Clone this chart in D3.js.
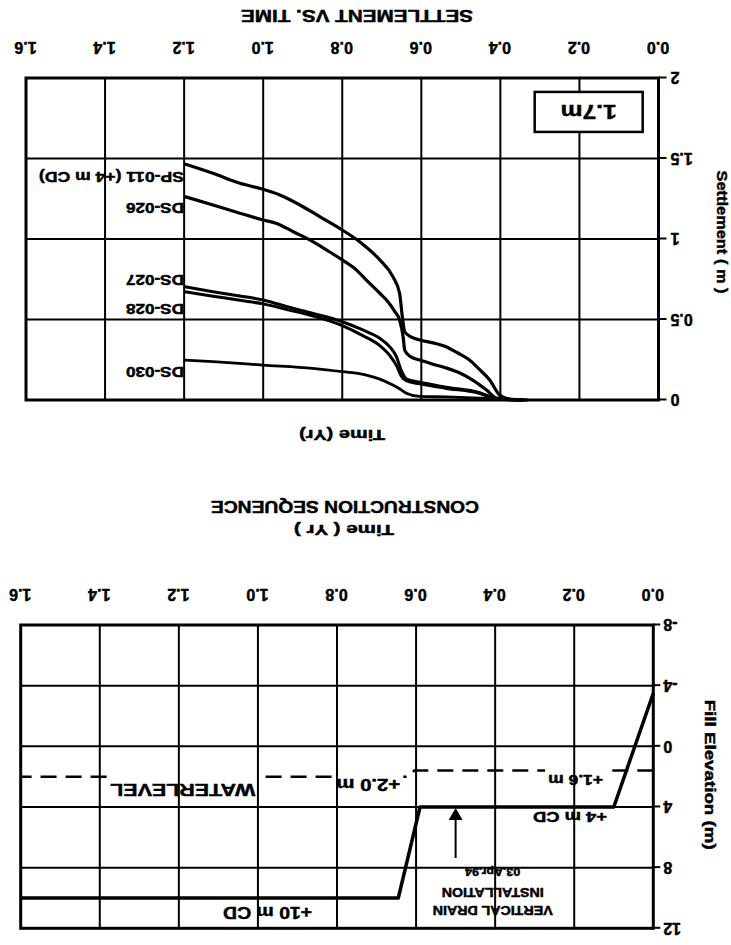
<!DOCTYPE html>
<html><head><meta charset="utf-8">
<script src="https://cdn.jsdelivr.net/npm/d3@7"></script>
<style>
body{margin:0;background:#fff;}
svg text{font-family:"Liberation Sans",Arial,sans-serif;font-weight:bold;fill:#000;stroke:#000;stroke-width:0.45px;}
</style></head><body>
<svg id="c" width="731" height="945"></svg>
<script>
// ---------- data ----------
const timeTicks = [0.0,0.2,0.4,0.6,0.8,1.0,1.2,1.4,1.6];
const settlementTicks = [0,0.5,1,1.5,2];
const elevationTicks = [-8,-4,0,4,8,12];

const seriesNames = ["SP-011 (+4 m CD)","DS-026","DS-027","DS-028","DS-030"];
// [time (yr), settlement (m)]
const sp011 = [[0.33,0],[0.37,0.004],[0.385,0.01],[0.402,0.031],[0.427,0.124],[0.455,0.195],[0.478,0.248],[0.51,0.295],[0.537,0.331],[0.57,0.355],[0.604,0.373],[0.625,0.39],[0.642,0.424],[0.648,0.517],[0.655,0.663],[0.672,0.766],[0.705,0.87],[0.756,0.983],[0.80,1.056],[0.857,1.139],[0.907,1.211],[0.958,1.273],[1.002,1.31],[1.059,1.346],[1.127,1.408],[1.198,1.466]];
const ds026 = [[0.34,0],[0.38,0.004],[0.41,0.012],[0.435,0.062],[0.47,0.124],[0.50,0.165],[0.537,0.199],[0.57,0.222],[0.604,0.248],[0.628,0.27],[0.642,0.31],[0.646,0.393],[0.655,0.497],[0.667,0.549],[0.688,0.621],[0.705,0.663],[0.739,0.745],[0.764,0.807],[0.80,0.87],[0.84,0.932],[0.882,0.994],[0.924,1.045],[0.966,1.097],[1.0,1.118],[1.059,1.16],[1.127,1.211],[1.198,1.263]];
const ds027 = [[0.34,0],[0.40,0.005],[0.42,0.015],[0.452,0.045],[0.537,0.08],[0.604,0.11],[0.637,0.13],[0.651,0.186],[0.663,0.269],[0.68,0.331],[0.705,0.383],[0.748,0.435],[0.80,0.486],[0.874,0.538],[0.94,0.58],[1.0,0.621],[1.059,0.646],[1.127,0.673],[1.198,0.704]];
const ds028 = [[0.34,0],[0.40,0.004],[0.42,0.012],[0.452,0.04],[0.537,0.072],[0.604,0.10],[0.637,0.118],[0.651,0.15],[0.663,0.215],[0.68,0.277],[0.705,0.338],[0.748,0.40],[0.80,0.462],[0.874,0.522],[0.94,0.562],[1.0,0.597],[1.059,0.619],[1.127,0.645],[1.198,0.672]];
const ds030 = [[0.34,0],[0.38,0.003],[0.452,0.012],[0.537,0.019],[0.604,0.022],[0.638,0.042],[0.655,0.07],[0.672,0.093],[0.705,0.13],[0.739,0.155],[0.80,0.176],[0.875,0.197],[1.0,0.217],[1.127,0.238],[1.198,0.248]];
const settlementSeries = [sp011, ds026, ds027, ds028, ds030];

// construction sequence
const fillTime = [0.0,0.10,0.59,0.645,1.6];
const fillElev = [-3.5,4,4,10,10];
const waterTime = [0.0,0.605,0.615,1.6];
const waterElev = [1.6,1.6,2.0,2.0];
const drainTime = 0.5;

// ---------- layout / style (not data) ----------
const W=731,H=945;
const S={left:72.5,right:705,top:545,bottom:867};
const C={left:77.7,right:710.3,top:16.7,bottom:320};
const labelDy=[-13,-11,7,-17,-12];
const seriesWidth=[3.2,3.2,3,3,2.8];
const FONT='"Liberation Sans",Arial,sans-serif';

const svg=d3.select("#c");
svg.append("rect").attr("width",W).attr("height",H).attr("fill","#fff");
const root=svg.append("g").attr("transform",`rotate(180,${W/2},${H/2})`);

const xS=d3.scaleLinear().domain([0,1.6]).range([S.left,S.right]);
const yS=d3.scaleLinear().domain([0,2]).range([S.top,S.bottom]);
const xC=d3.scaleLinear().domain([0,1.6]).range([C.left,C.right]);
const yC=d3.scaleLinear().domain([-8,12]).range([C.bottom,C.top]);

function txt(g,x,y,s,size,len,anchor){
  const t=g.append("text").attr("x",x).attr("y",y).attr("dy","0.35em")
    .attr("text-anchor",anchor||"middle").style("font-size",size+"px").text(s);
  if(len){t.attr("textLength",len).attr("lengthAdjust","spacingAndGlyphs");}
  return t;
}

function grid(g,x,y,xt,yt){
  const [y0,y1]=y.range(), [x0,x1]=x.range();
  g.append("g").selectAll("line").data(xt.slice(1,-1)).join("line")
    .attr("x1",d=>x(d)).attr("x2",d=>x(d)).attr("y1",y0).attr("y2",y1)
    .attr("stroke","#000").attr("stroke-width",2);
  g.append("g").selectAll("line").data(yt.slice(1,-1)).join("line")
    .attr("y1",d=>y(d)).attr("y2",d=>y(d)).attr("x1",x0).attr("x2",x1)
    .attr("stroke","#000").attr("stroke-width",2);
}
function box(g,x,y){
  const [x0,x1]=x.range(),[ya,yb]=y.range();
  g.append("rect").attr("x",x0).attr("y",Math.min(ya,yb)).attr("width",x1-x0).attr("height",Math.abs(yb-ya))
    .attr("fill","none").attr("stroke","#000").attr("stroke-width",3);
}
function styleAxis(a,size){
  a.select(".domain").remove();
  a.selectAll("line").attr("stroke","#000").attr("stroke-width",2);
  a.selectAll("text").style("font-size",size+"px").style("font-family",FONT).style("font-weight","bold");
}

// ================= Settlement vs time =================
const gS=root.append("g");
grid(gS,xS,yS,timeTicks,settlementTicks);
box(gS,xS,yS);
styleAxis(gS.append("g").attr("transform",`translate(${S.left},0)`)
  .call(d3.axisLeft(yS).tickValues(settlementTicks).tickSize(8).tickPadding(4).tickFormat(d=>String(d))),16);
styleAxis(gS.append("g").attr("transform",`translate(0,${S.bottom})`)
  .call(d3.axisBottom(xS).tickValues(timeTicks).tickSize(0).tickPadding(25).tickFormat(d3.format(".1f"))),16);

const lineS=d3.line().x(d=>xS(d[0])).y(d=>yS(d[1])).curve(d3.curveMonotoneX);
gS.append("g").selectAll("path").data(settlementSeries).join("path")
  .attr("d",lineS).attr("fill","none").attr("stroke","#000")
  .attr("stroke-width",(d,i)=>seriesWidth[i]).attr("stroke-linejoin","round");
settlementSeries.forEach((s,i)=>{
  const last=s[s.length-1];
  txt(gS,xS(last[0])+1,yS(last[1])+labelDy[i],seriesNames[i],14,i===0?145:58,"start");
});

// 1.7m box
const bx=xS(0.04), by=yS(1.665);
gS.append("rect").attr("x",bx).attr("y",by).attr("width",108).attr("height",40)
  .attr("fill","#fff").attr("stroke","#000").attr("stroke-width",2.5);
txt(gS,bx+54,by+20,"1.7m",20,56);

txt(gS,389,510,"Time (Yr)",15,86);
txt(gS,374,929,"SETTLEMENT VS. TIME",16,232);
txt(gS,0,0,"Settlement ( m )",15,123).attr("transform",`translate(9,${(S.top+S.bottom)/2+7}) rotate(-90)`);

// ================= Construction sequence =================
const gC=root.append("g");
const waterLine=d3.line().x((d,i)=>xC(waterTime[i])).y((d,i)=>yC(waterElev[i]));
gC.append("path").attr("d",waterLine(waterTime)).attr("fill","none").attr("stroke","#000")
  .attr("stroke-width",2.5).attr("stroke-dasharray","16,9");
const knock=gC.append("g");
grid(gC,xC,yC,timeTicks,elevationTicks);
box(gC,xC,yC);
styleAxis(gC.append("g").attr("transform",`translate(${C.left},0)`)
  .call(d3.axisLeft(yC).tickValues(elevationTicks).tickSize(7).tickPadding(3).tickFormat(d=>String(d))),16);
styleAxis(gC.append("g").attr("transform",`translate(0,${C.bottom})`)
  .call(d3.axisBottom(xC).tickValues(timeTicks).tickSize(0).tickPadding(25).tickFormat(d3.format(".1f"))),16);

const fillLine=d3.line().x((d,i)=>xC(fillTime[i])).y((d,i)=>yC(fillElev[i]));
gC.append("path").attr("d",fillLine(fillTime)).attr("fill","none").attr("stroke","#000")
  .attr("stroke-width",3.5).attr("stroke-linejoin","round");

// water level labels with knockout of dashes
function waterLabel(x,y,s,size,len,lineY){
  const t=txt(gC,x,y,s,size,len,"start");
  const b=t.node().getBBox();
  knock.append("rect").attr("x",b.x-3).attr("y",b.y).attr("width",b.width+6).attr("height",lineY+3-b.y).attr("fill","#fff");
}
waterLabel(xC(0.127),yC(1.6)-9,"+1.6 m",14,55,yC(1.6));
waterLabel(xC(0.64),yC(2.0)-8,"+2.0 m",16,64,yC(2.0));
waterLabel(xC(1.007),yC(2.0)-13,"WATERLEVEL",17,145,yC(2.0));

txt(gC,xC(0.117),yC(4)-10,"+4 m CD",14,74,"start");
txt(gC,xC(0.863),yC(10)-15,"+10 m CD",17,89,"start");

// vertical drain arrow
const ax=xC(drainTime), ay=yC(4);
gC.append("line").attr("x1",ax).attr("x2",ax).attr("y1",ay-51).attr("y2",ay-10).attr("stroke","#000").attr("stroke-width",2);
gC.append("path").attr("d",`M${ax},${ay-1}L${ax-7},${ay-13}L${ax+7},${ay-13}Z`).attr("fill","#000");
const dx=xC(drainTime)-37;
txt(gC,dx,yC(12)+18,"VERTICAL DRAIN",12,120);
txt(gC,dx,yC(12)+36,"INSTALLATION",12,102);
txt(gC,dx,yC(12)+56,"03.Apr.94",11,55);

txt(gC,387,415,"Time ( Yr )",15,100);
txt(gC,386,438,"CONSTRUCTION SEQUENCE",16,268);
txt(gC,0,0,"Fill Elevation (m)",15,150).attr("transform",`translate(21,${(C.top+C.bottom)/2+2}) rotate(-90)`);
</script>
</body></html>
